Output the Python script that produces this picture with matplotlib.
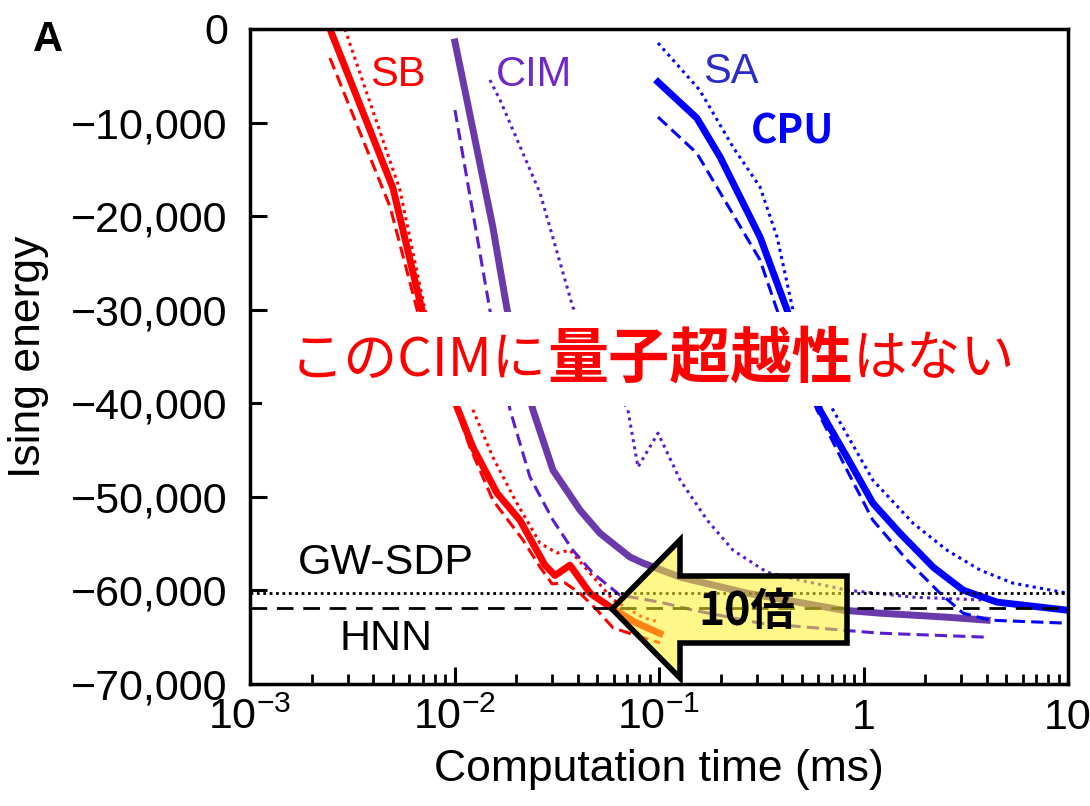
import matplotlib
matplotlib.use("Agg")
import matplotlib.pyplot as plt
from matplotlib.patches import Polygon, Rectangle

plt.rcParams['font.family'] = ['Liberation Sans', 'DejaVu Sans']
plt.rcParams['mathtext.default'] = 'regular'

# --- data (time in ms, Ising energy) ---
# SB
sb_solid_t = [0.00246, 0.0050, 0.00693, 0.01028, 0.0123, 0.01614, 0.0209, 0.0277, 0.0310, 0.0367, 0.0460, 0.0589, 0.0763, 0.1011]
sb_solid_e = [0, -17000, -30040, -40400, -44700, -49600, -52500, -57300, -58400, -57300, -60300, -61900, -63400, -64600]
sb_dash_t = [0.00246, 0.00484, 0.00657, 0.01016, 0.0119, 0.0154, 0.0216, 0.0262, 0.0300, 0.0347, 0.0411, 0.0498, 0.0596, 0.0722, 0.101]
sb_dash_e = [-3100, -19000, -30040, -40400, -44700, -50350, -54600, -57500, -59300, -59200, -60300, -62100, -64000, -64600, -65600]
sb_dot_t = [0.00291, 0.00541, 0.00717, 0.0123, 0.0154, 0.0198, 0.0262, 0.0317, 0.0367, 0.0460, 0.0596, 0.0835, 0.101]
sb_dot_e = [0, -17200, -30040, -40700, -45750, -50350, -54950, -56000, -55700, -58150, -61000, -62900, -63400]

# CIM
cim_solid_t = [0.01005, 0.0115, 0.0154, 0.0181, 0.0242, 0.0303, 0.0411, 0.0514, 0.0722, 0.0835, 0.127, 0.269, 0.794, 1.205, 2.56, 4.02]
cim_solid_e = [-1390, -7590, -21170, -30040, -40730, -47140, -51420, -53880, -56440, -57080, -58580, -60290, -62110, -62430, -62860, -63180]
cim_dash_t = [0.01005, 0.0149, 0.0187, 0.0234, 0.0303, 0.0379, 0.0475, 0.0644, 0.101, 0.147, 0.312, 0.794, 1.205, 4.02]
cim_dash_e = [-8660, -30040, -40730, -47890, -52490, -55700, -58150, -60500, -61250, -62110, -63500, -64250, -64570, -65000]
cim_dot_t = [0.0149, 0.0167, 0.0262, 0.0379, 0.0705, 0.0789, 0.0989, 0.127, 0.172, 0.230, 0.337, 0.489, 0.830, 1.746, 4.02]
cim_dot_e = [-5450, -7590, -17530, -29720, -40730, -46820, -43190, -48210, -52490, -55700, -58050, -58900, -59970, -60720, -61040]

# SA (CPU)
sa_solid_t = [0.0989, 0.153, 0.199, 0.312, 0.423, 0.612, 0.830, 1.111, 1.507, 2.19, 3.07, 4.50, 9.89]
sa_solid_e = [-5670, -9510, -13680, -22240, -30040, -40730, -45750, -50670, -53880, -57510, -59970, -61250, -62110]
sa_dash_t = [0.0989, 0.153, 0.312, 0.378, 0.593, 0.830, 1.111, 1.634, 2.366, 3.07, 4.16, 9.89]
sa_dash_e = [-9410, -13260, -24690, -30040, -40730, -47140, -52490, -56760, -60290, -62430, -63180, -63500]
sa_dot_t = [0.0989, 0.158, 0.230, 0.312, 0.378, 0.452, 0.710, 1.111, 1.746, 2.56, 3.72, 5.38, 9.89]
sa_dot_e = [-1500, -6520, -12610, -16890, -22240, -30040, -40730, -48210, -52810, -55700, -57830, -59220, -60290]

gw_sdp = -60280
hnn = -61900

y_ticks = [0, -10000, -20000, -30000, -40000, -50000, -60000, -70000]
x_ticks = [1e-3, 1e-2, 1e-1, 1, 10]
x_labels = ['10$^{-3}$', '10$^{-2}$', '10$^{-1}$', '1', '10']

W, H = 1090, 806
fig = plt.figure(figsize=(W / 100, H / 100), dpi=100)
ax = fig.add_axes([250 / W, 1 - 684 / H, (1068 - 250) / W, (684 - 29) / H])

red = '#ff0000'
cim_c = '#6a3aab'
cim_c2 = '#5a1ed0'
blue = '#0000ff'
dash = (0, (4, 2))
dot = (0, (1, 1.4))

ax.plot(sb_solid_t, sb_solid_e, color=red, lw=5)
ax.plot(sb_dash_t, sb_dash_e, color=red, lw=2.2, ls=dash)
ax.plot(sb_dot_t, sb_dot_e, color=red, lw=2.2, ls=dot)
ax.plot(cim_solid_t, cim_solid_e, color=cim_c, lw=5)
ax.plot(cim_dash_t, cim_dash_e, color=cim_c2, lw=2.2, ls=dash)
ax.plot(cim_dot_t, cim_dot_e, color=cim_c2, lw=2.2, ls=dot)
ax.plot(sa_solid_t, sa_solid_e, color=blue, lw=5)
ax.plot(sa_dash_t, sa_dash_e, color=blue, lw=2.2, ls=dash)
ax.plot(sa_dot_t, sa_dot_e, color=blue, lw=2.2, ls=dot)

ax.axhline(gw_sdp, color='black', lw=2, ls=(0, (1, 1.3)))
ax.axhline(hnn, color='black', lw=2, ls=(0, (6, 3.5)))

ax.set_xscale('log')
ax.set_xlim(1e-3, 10)
ax.set_ylim(-70000, 0)
ax.set_xticks(x_ticks, x_labels)
ax.set_yticks(y_ticks, [f'{v:,}'.replace('-', '\u2212') for v in y_ticks])
ax.tick_params(which='major', direction='in', length=12, width=2.2, labelsize=31)
ax.tick_params(which='minor', direction='in', length=7, width=2)
ax.tick_params(axis='y', pad=16)
ax.tick_params(axis='x', pad=10)
for s in ax.spines.values():
    s.set_linewidth(2.5)

ax.set_ylabel('Ising energy', fontsize=32, labelpad=16)
ax.set_xlabel('Computation time (ms)', fontsize=32, labelpad=8)

jp = ['Noto Sans CJK JP', 'DejaVu Sans']
ax.text(0.147, 0.93, 'SB', transform=ax.transAxes, color=red, fontsize=30, va='center')
ax.text(0.3, 0.93, 'CIM', transform=ax.transAxes, color='#7028c8', fontsize=30, va='center')
ax.text(0.554, 0.935, 'SA', transform=ax.transAxes, color='#2b2bc8', fontsize=30, va='center')
ax.text(0.612, 0.843, 'CPU', transform=ax.transAxes, color=blue, fontsize=29,
        fontweight='bold', va='center', family=jp)
ax.text(0.058, 0.185, 'GW-SDP', transform=ax.transAxes, fontsize=31, va='center')
ax.text(0.110, 0.068, 'HNN', transform=ax.transAxes, fontsize=31, va='center')

fig.text(33 / W, 1 - 40 / H, 'A', fontsize=30, fontweight='bold', va='center')

# white band behind the message
ax.add_patch(Rectangle((0.015, (684 - 406) / 655), 0.965, 94 / 655, transform=ax.transAxes,
                       facecolor='white', edgecolor='none', zorder=4))

# message text, mixed regular / bold
pieces = [('このCIMに', 'normal', 39), ('量子超越性', 'bold', 44), ('はない', 'normal', 39)]
fig.canvas.draw()
renderer = fig.canvas.get_renderer()
x = 290
for s, wt, sz in pieces:
    t = fig.text(x / W, 1 - 360 / H, s, color=red, fontsize=sz, fontweight=wt,
                 family=jp, va='center', ha='left', zorder=6)
    x += t.get_window_extent(renderer).width

# yellow arrow
arrow_px = [(612, 609), (680, 540), (680, 576), (847, 576), (847, 643), (680, 643), (680, 678)]
arrow = Polygon([(px / W, 1 - py / H) for px, py in arrow_px], closed=True,
                transform=fig.transFigure, facecolor=(1, 0.95, 0.15, 0.55),
                edgecolor='black', lw=4, joinstyle='miter', zorder=5)
fig.add_artist(arrow)
fig.text(747 / W, 1 - 612 / H, '10倍', fontsize=32, fontweight='bold', family=jp,
         ha='center', va='center', zorder=6)

fig.savefig('out.png', dpi=100)
